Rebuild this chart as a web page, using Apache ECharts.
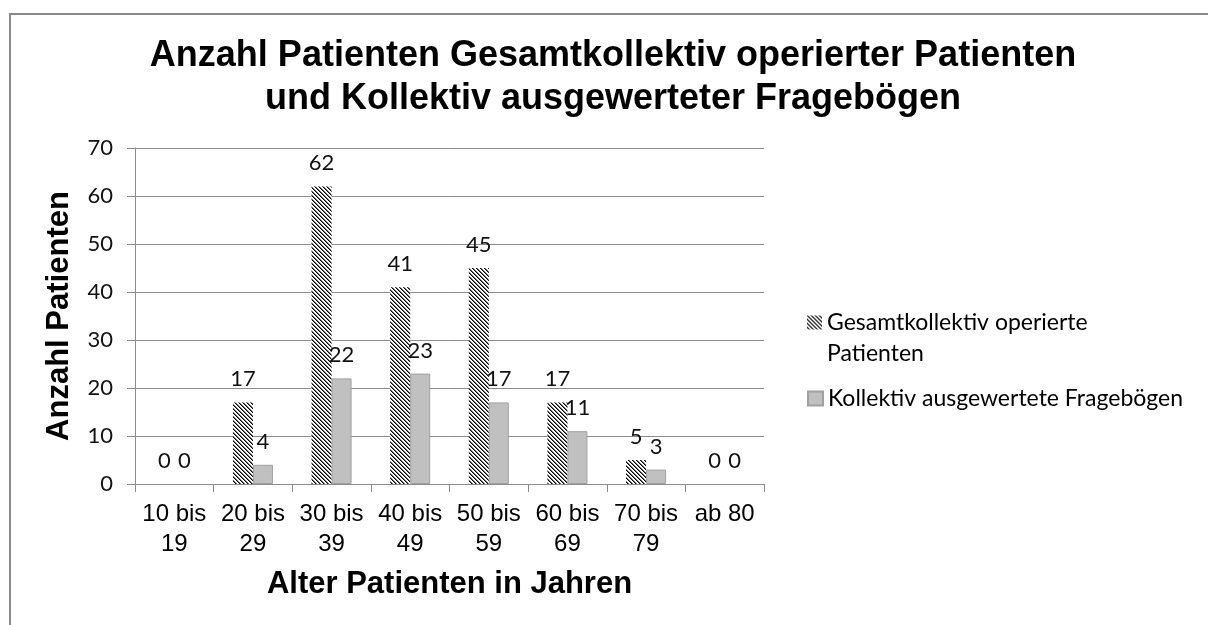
<!DOCTYPE html>
<html>
<head>
<meta charset="utf-8">
<script src="https://cdn.jsdelivr.net/npm/echarts@6/dist/echarts.min.js"></script>
<style>
html,body{margin:0;padding:0;background:#fff;}
#chart{width:1208px;height:625px;}
</style>
</head>
<body>
<div id="chart"></div>
<script>
const categories = ['10 bis 19','20 bis 29','30 bis 39','40 bis 49','50 bis 59','60 bis 69','70 bis 79','ab 80'];
const seriesNames = ['Gesamtkollektiv operierte Patienten','Kollektiv ausgewertete Fragebögen'];
const gesamtValues = [0,17,62,41,45,17,5,0];
const kollektivValues = [0,4,22,23,17,11,3,0];
const yTicks = {min:0, max:70, interval:10};

function hatch(){
  const n = 8;
  const c = document.createElement('canvas');
  c.width = n; c.height = n;
  const ctx = c.getContext('2d');
  ctx.fillStyle = '#ffffff';
  ctx.fillRect(0,0,n,n);
  for (let x=0;x<n;x++){
    for (let y=0;y<n;y++){
      const d = ((x - y) % 4 + 4) % 4;
      if (d === 0){ ctx.fillStyle = '#000000'; ctx.fillRect(x,y,1,1); }
      else if (d === 1){ ctx.fillStyle = '#6e6e6e'; ctx.fillRect(x,y,1,1); }
    }
  }
  return {image: c, repeat: 'repeat'};
}

const chart = echarts.init(document.getElementById('chart'), null, {renderer:'canvas'});
const labelStyle = {show:true, position:'top', distance:12, fontFamily:'Lato', fontSize:22, color:'#111'};
const grayItem = {color:'#c0c0c0', borderColor:'#a0a0a0', borderWidth:1};
const option = {
  backgroundColor:'#fff',
  animation:false,
  graphic:[{type:'rect', silent:true, shape:{x:10,y:14,width:1400,height:800}, style:{fill:'none', stroke:'#8a8a8a', lineWidth:2}}],
  title:{
    text:'Anzahl Patienten Gesamtkollektiv operierter Patienten\nund Kollektiv ausgewerteter Fragebögen',
    left:613, textAlign:'center', top:35, padding:0,
    textStyle:{fontFamily:'Liberation Sans', fontWeight:'bold', fontSize:36, lineHeight:43, color:'#000'}
  },
  legend:[
    {data:[seriesNames[0]], orient:'vertical', left:807, top:276, padding:0, itemWidth:15, itemHeight:14, icon:'rect',
     formatter: n => '\u00a0\n' + n.replace(' Patienten','\nPatienten'),
     textStyle:{fontFamily:'Lato', fontSize:23, lineHeight:31, color:'#000'}},
    {data:[seriesNames[1]], orient:'vertical', left:807, top:383, padding:0, itemWidth:15, itemHeight:14, icon:'rect',
     textStyle:{fontFamily:'Lato', fontSize:23, lineHeight:31, color:'#000'}}
  ],
  grid:{left:135, top:148, right:444, bottom:141, containLabel:false},
  xAxis:{
    type:'category', data:categories,
    name:'Alter Patienten in Jahren', nameLocation:'middle', nameGap:83,
    nameTextStyle:{fontFamily:'Liberation Sans', fontWeight:'bold', fontSize:31, lineHeight:34, color:'#000'},
    axisLine:{lineStyle:{color:'#8c8c8c', width:1}},
    axisTick:{show:true, length:8, lineStyle:{color:'#8c8c8c'}},
    axisLabel:{interval:0, margin:15, fontFamily:'Liberation Sans', fontSize:24, lineHeight:30, color:'#000',
      formatter: v => v.replace(' bis ', ' bis\n')}
  },
  yAxis:{
    type:'value', min:yTicks.min, max:yTicks.max, interval:yTicks.interval,
    name:'Anzahl Patienten', nameLocation:'middle', nameRotate:90, nameGap:53,
    nameTextStyle:{fontFamily:'Liberation Sans', fontWeight:'bold', fontSize:31, lineHeight:34, color:'#000'},
    axisLine:{show:true, lineStyle:{color:'#8c8c8c', width:1}},
    axisTick:{show:true, length:8, lineStyle:{color:'#8c8c8c'}},
    splitLine:{show:true, lineStyle:{color:'#8c8c8c', width:1}},
    axisLabel:{margin:22, fontFamily:'Lato', fontSize:22, color:'#111'}
  },
  series:[
    {name:seriesNames[0], type:'bar', data:gesamtValues, barWidth:20, barGap:'0%',
     itemStyle:{color:hatch()}, label:labelStyle},
    {name:seriesNames[1], type:'bar', barWidth:20, barGap:'0%',
     data:kollektivValues.map(v => v === 0 ? {value:v, itemStyle:{borderWidth:0}} : v),
     itemStyle:grayItem, label:labelStyle}
  ]
};
chart.setOption(option);
</script>
</body>
</html>
